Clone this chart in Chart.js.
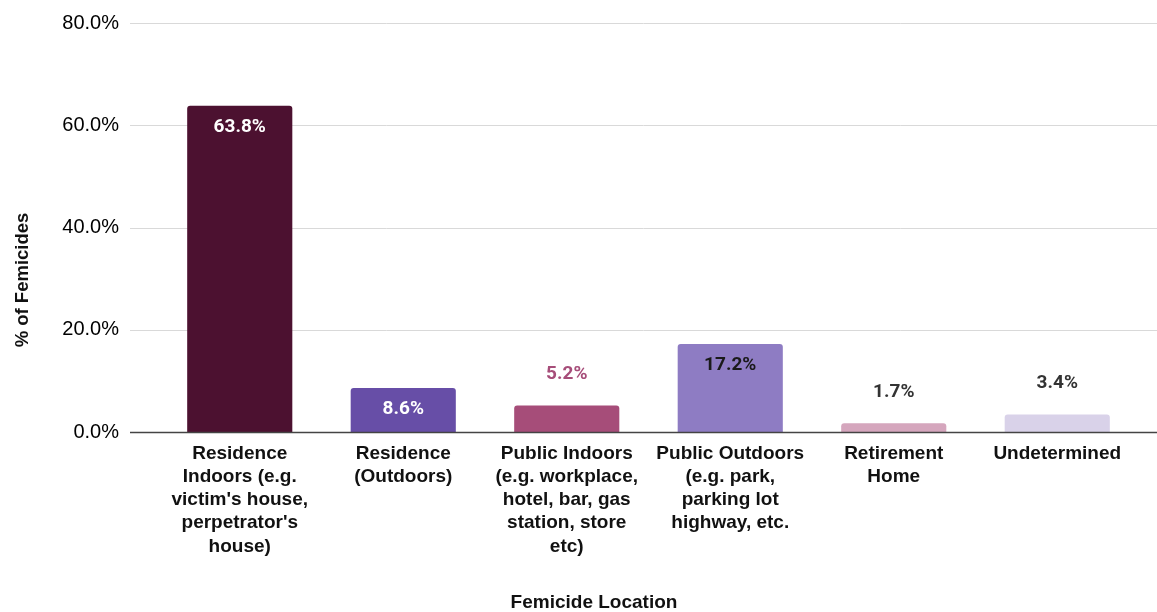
<!DOCTYPE html>
<html>
<head>
<meta charset="utf-8">
<script src="https://cdn.jsdelivr.net/npm/chart.js@4/dist/chart.umd.min.js"></script>
<style>
  html, body { margin: 0; padding: 0; background: #ffffff; }
  #wrap { width: 1157px; height: 612px; position: relative; }
</style>
</head>
<body>
<div id="wrap"><canvas id="c" width="1157" height="612"></canvas></div>
<script>
// Femicide locations and their share of all femicides (%)
const categories = [
  ["Residence", "Indoors (e.g.", "victim's house,", "perpetrator's", "house)"],
  ["Residence", "(Outdoors)"],
  ["Public Indoors", "(e.g. workplace,", "hotel, bar, gas", "station, store", "etc)"],
  ["Public Outdoors", "(e.g. park,", "parking lot", "highway, etc."],
  ["Retirement", "Home"],
  ["Undetermined"]
];
const shares = [63.8, 8.6, 5.2, 17.2, 1.7, 3.4];
const yTicks = [0, 20, 40, 60, 80];

const barColors = ["#4c1130", "#674ea7", "#a64d79", "#8e7cc3", "#d5a6bd", "#d9d2e9"];
// value label placement: inside the bar top, or just above it
const labelInside = [true, true, false, true, false, false];
const labelColors = ["#ffffff", "#ffffff", "#a64d79", "#1a1a1a", "#333333", "#333333"];

const GRID_LEFT = 130;

// horizontal gridlines spanning the full plot width, plus the baseline
const gridPlugin = {
  id: 'wideGrid',
  beforeDatasetsDraw(chart) {
    const { ctx, scales: { y } } = chart;
    ctx.save();
    ctx.strokeStyle = '#d9d9d9';
    ctx.lineWidth = 1;
    yTicks.forEach(v => {
      if (v === 0) return;
      const py = Math.round(y.getPixelForValue(v)) + 0.5;
      ctx.beginPath();
      ctx.moveTo(GRID_LEFT, py);
      ctx.lineTo(chart.width, py);
      ctx.stroke();
    });
    ctx.restore();
  },
  afterDatasetsDraw(chart) {
    const { ctx, scales: { y } } = chart;
    const py = Math.round(y.getPixelForValue(0)) + 0.5;
    ctx.save();
    ctx.strokeStyle = '#444444';
    ctx.lineWidth = 1.5;
    ctx.beginPath();
    ctx.moveTo(GRID_LEFT, py);
    ctx.lineTo(chart.width, py);
    ctx.stroke();
    ctx.restore();
  }
};

// value labels on each bar
const valueLabelPlugin = {
  id: 'valueLabels',
  afterDatasetsDraw(chart) {
    const { ctx } = chart;
    const meta = chart.getDatasetMeta(0);
    ctx.save();
    ctx.font = 'bold 19px Roboto, "Liberation Sans", sans-serif';
    ctx.textAlign = 'center';
    ctx.textBaseline = 'middle';
    meta.data.forEach((bar, i) => {
      const v = chart.data.datasets[0].data[i];
      const ly = labelInside[i] ? bar.y + 21 : bar.y - 31;
      ctx.fillStyle = labelColors[i];
      ctx.fillText(v.toFixed(1) + '%', bar.x, ly);
    });
    ctx.restore();
  }
};

// axis titles
const axisTitlePlugin = {
  id: 'axisTitles',
  afterDraw(chart) {
    const { ctx } = chart;
    ctx.save();
    ctx.fillStyle = '#111111';
    ctx.textAlign = 'center';
    ctx.textBaseline = 'middle';
    ctx.font = 'bold 19px "Liberation Sans", Arial, sans-serif';
    ctx.fillText('Femicide Location', 594, 603);
    ctx.font = 'bold 18.5px "Liberation Sans", Arial, sans-serif';
    ctx.translate(23, 280);
    ctx.rotate(-Math.PI / 2);
    ctx.fillText('% of Femicides', 0, 0);
    ctx.restore();
  }
};

new Chart(document.getElementById('c'), {
  type: 'bar',
  data: {
    labels: categories,
    datasets: [{
      data: shares,
      backgroundColor: barColors,
      borderRadius: { topLeft: 3, topRight: 3, bottomLeft: 0, bottomRight: 0 },
      borderSkipped: 'bottom',
      barPercentage: 1,
      categoryPercentage: 0.643
    }]
  },
  options: {
    responsive: false,
    animation: false,
    devicePixelRatio: 1,
    layout: { padding: { top: 23, right: 18, bottom: 0, left: 0 } },
    plugins: {
      legend: { display: false },
      title: { display: false },
      tooltip: { enabled: false }
    },
    scales: {
      x: {
        grid: { display: false, drawTicks: false },
        border: { display: false },
        ticks: {
          color: '#111111',
          font: { family: '"Liberation Sans", Arial, sans-serif', size: 19, weight: 'bold', lineHeight: 1.22 },
          padding: 10,
          maxRotation: 0,
          autoSkip: false
        },
        afterFit(scale) { scale.height = 180; scale.paddingTop = 0; scale.paddingBottom = 0; }
      },
      y: {
        min: 0,
        max: 80,
        afterBuildTicks(scale) { scale.ticks = yTicks.map(v => ({ value: v })); },
        grid: { display: false, drawTicks: false },
        border: { display: false },
        ticks: {
          color: '#000000',
          font: { family: '"Liberation Sans", Arial, sans-serif', size: 20 },
          padding: 39,
          callback: v => v.toFixed(1) + '%'
        },
        afterFit(scale) { scale.width = 158; scale.paddingTop = 0; scale.paddingBottom = 0; }
      }
    }
  },
  plugins: [gridPlugin, valueLabelPlugin, axisTitlePlugin]
});
</script>
</body>
</html>
